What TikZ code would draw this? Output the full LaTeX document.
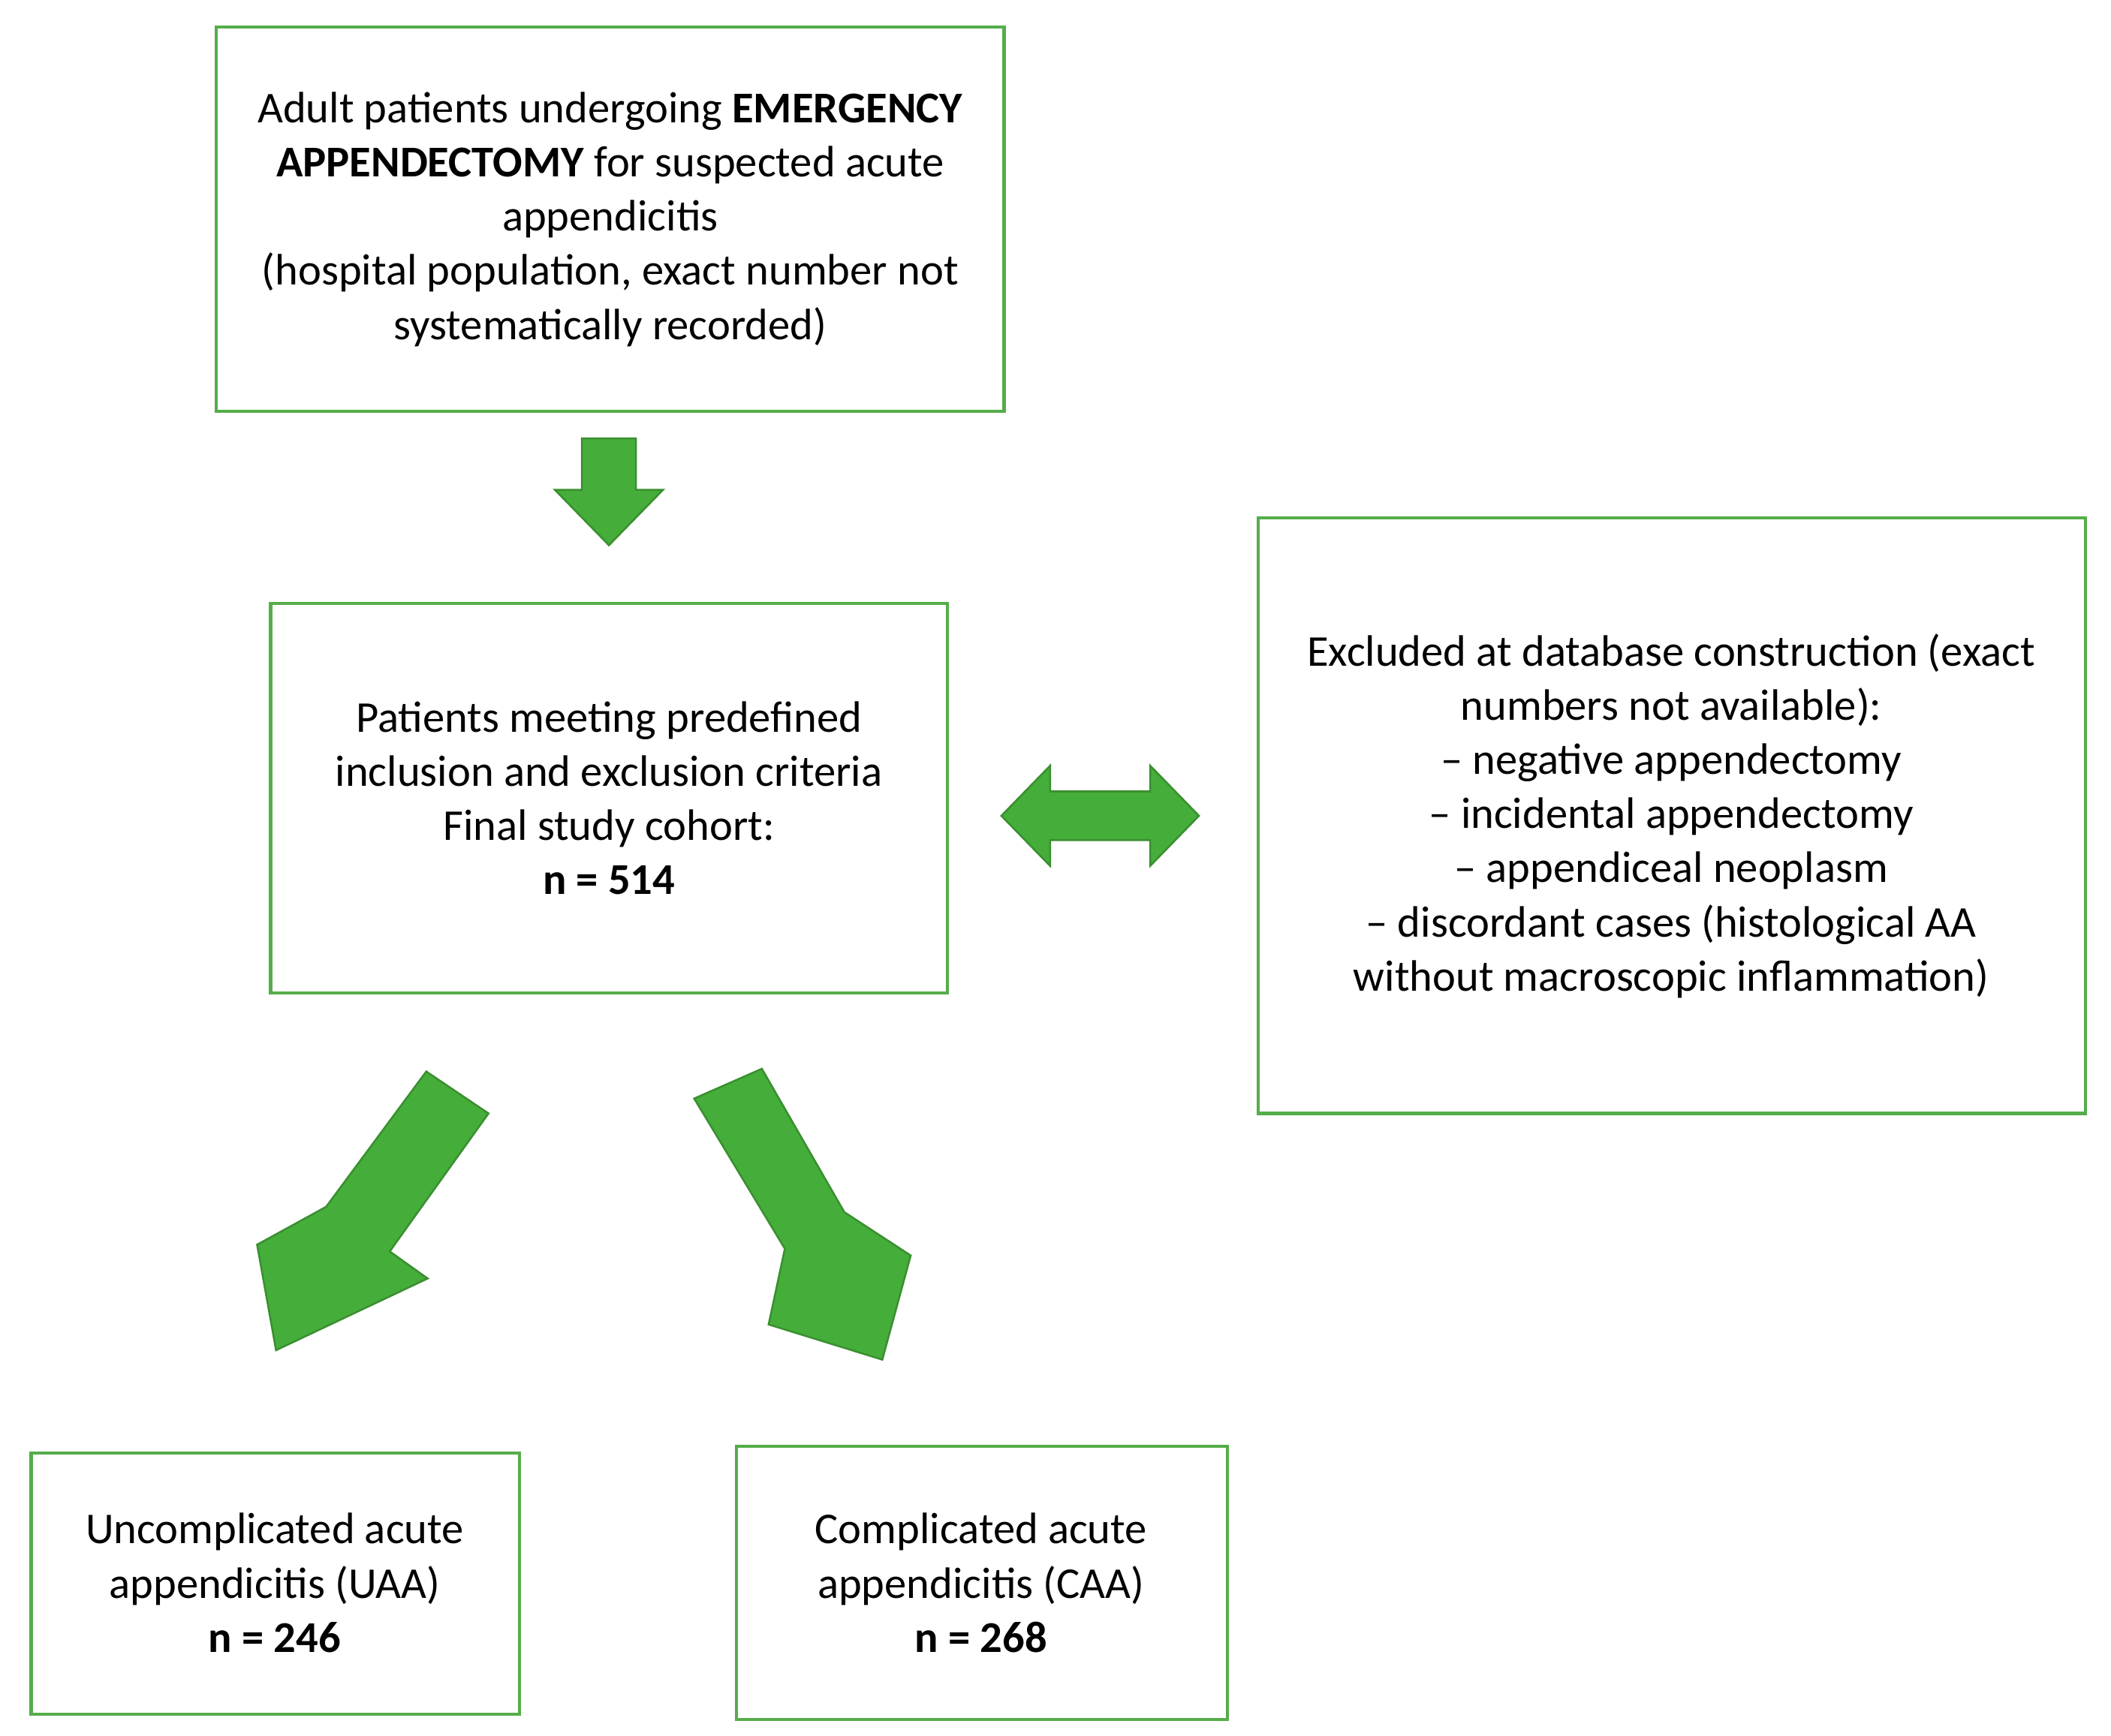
\documentclass[tikz,border=0pt]{standalone}
\usepackage{fontspec}
\setmainfont{Carlito}
\begin{document}
\begin{tikzpicture}[x=0.02cm,y=-0.02cm,
  box/.style={draw=boxgreen,line width=1.3pt,fill=white},
  txt/.style={align=center,font=\fontsize{18.5}{22.8}\selectfont,inner sep=0pt},
  arr/.style={fill=arrgreen,draw=arrline,line width=0.8pt,line join=miter}]
\definecolor{boxgreen}{HTML}{55AD4A}
\definecolor{arrgreen}{HTML}{45AE3A}
\definecolor{arrline}{HTML}{3A8F30}
\useasboundingbox (0,0) rectangle (1560,1283);
\draw[box] (160,20) rectangle (742,304);
\node[txt] (top) at (451,162) {Adult patients undergoing \textbf{EMERGENCY}\\\textbf{APPENDECTOMY} for suspected acute\\appendicitis\\(hospital population, exact number not\\systematically recorded)};
\draw[box] (200,446) rectangle (700,734);
\node[txt] (mid) at (450,590) {Patients meeting predefined\\inclusion and exclusion criteria\\Final study cohort:\\\textbf{n = 514}};
\draw[box] (930,383) rectangle (1541,823);
\node[txt] (exc) at (1235,603) {Excluded at database construction (exact\\numbers not available):\\– negative appendectomy\\– incidental appendectomy\\– appendiceal neoplasm\\– discordant cases (histological AA\\without macroscopic inflammation)};
\draw[box] (23,1074) rectangle (384,1267);
\node[txt] (uaa) at (203,1170) {Uncomplicated acute\\appendicitis (UAA)\\\textbf{n = 246}};
\draw[box] (544,1069) rectangle (907,1271);
\node[txt] (caa) at (725,1170) {Complicated acute\\appendicitis (CAA)\\\textbf{n = 268}};
% arrows
\draw[arr] (430,324) -- (470,324) -- (470,362) -- (490,362) -- (450,403) -- (410,362) -- (430,362) -- cycle;
\draw[arr] (740,603) -- (776,566) -- (776,585) -- (850,585) -- (850,566) -- (886,603) -- (850,640) -- (850,621) -- (776,621) -- (776,640) -- cycle;
\draw[arr] (315,792) -- (361,823) -- (288,925) -- (316,945) -- (204,998) -- (190,920) -- (241,892) -- cycle;
\draw[arr] (513,812) -- (563,790) -- (624,896) -- (673,928) -- (652,1005) -- (568,979) -- (580,923) -- cycle;
\end{tikzpicture}
\end{document}
